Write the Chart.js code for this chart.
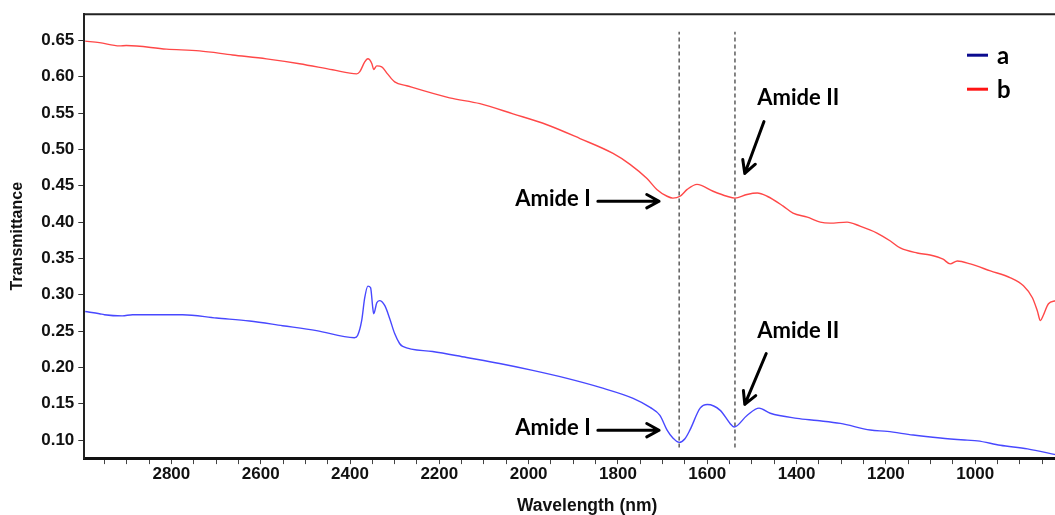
<!DOCTYPE html>
<html>
<head>
<meta charset="utf-8">
<script src="https://cdn.jsdelivr.net/npm/chart.js@4.4.1/dist/chart.umd.min.js"></script>
<style>
  html, body { margin: 0; padding: 0; background: #fff; overflow: hidden; }
  #wrap { width: 1055px; height: 515px; overflow: hidden; }
  #box { width: 1090px; height: 515px; }
</style>
</head>
<body>
<div id="wrap"><div id="box"><canvas id="ftir"></canvas></div></div>
<script>
// sample a
const wavelengthA = [2993, 2961, 2950, 2910, 2887, 2849, 2775, 2699, 2625, 2551, 2475, 2390, 2383, 2374, 2367, 2360,
  2354, 2349, 2347, 2340, 2334, 2322, 2311, 2300, 2289, 2282, 2215, 2139, 2065, 1991, 1914, 1840, 1766, 1728, 1706,
  1690, 1677, 1663, 1650, 1639, 1616, 1600, 1571, 1549, 1540, 1511, 1484, 1459, 1399, 1354, 1302, 1235, 1197, 1139,
  1078, 1018, 995, 944, 883, 820];
const transA = [0.277, 0.274, 0.2726, 0.271, 0.2726, 0.2726, 0.2726, 0.268, 0.264, 0.2575, 0.2507, 0.241, 0.244, 0.264,
  0.296, 0.312, 0.310, 0.282, 0.274, 0.289, 0.292, 0.285, 0.267, 0.2466, 0.233, 0.229, 0.222, 0.2137, 0.2055, 0.196,
  0.185, 0.1726, 0.1575, 0.145, 0.134, 0.1137, 0.103, 0.097, 0.102, 0.1137, 0.144, 0.149, 0.141, 0.123, 0.118, 0.134,
  0.144, 0.137, 0.130, 0.127, 0.123, 0.114, 0.112, 0.107, 0.103, 0.100, 0.099, 0.093, 0.088, 0.080];

// sample b
const wavelengthB = [2993, 2961, 2916, 2901, 2811, 2737, 2663, 2587, 2513, 2439, 2385, 2378, 2367, 2360, 2351, 2347,
  2340, 2329, 2316, 2300, 2273, 2177, 2109, 2035, 1959, 1885, 1811, 1773, 1735, 1713, 1690, 1677, 1661, 1645, 1623,
  1587, 1556, 1538, 1511, 1488, 1466, 1430, 1408, 1376, 1347, 1325, 1287, 1258, 1220, 1190, 1168, 1130, 1101, 1072,
  1056, 1040, 1011, 966, 921, 892, 872, 861, 854, 848, 836, 820];
const transB = [0.649, 0.647, 0.6425, 0.643, 0.638, 0.6356, 0.630, 0.6247, 0.618, 0.6096, 0.604, 0.607, 0.6205, 0.6247,
  0.618, 0.610, 0.615, 0.6137, 0.604, 0.593, 0.5877, 0.571, 0.563, 0.549, 0.534, 0.515, 0.4945, 0.4795, 0.460, 0.445,
  0.4356, 0.433, 0.4356, 0.445, 0.452, 0.4425, 0.4356, 0.433, 0.438, 0.440, 0.4356, 0.422, 0.4123, 0.4068, 0.400,
  0.3986, 0.400, 0.3945, 0.385, 0.374, 0.3644, 0.3575, 0.3548, 0.349, 0.3425, 0.3466, 0.3425, 0.3329, 0.3233, 0.3123,
  0.2959, 0.278, 0.2644, 0.2712, 0.2877, 0.2918];

const seriesLabels = ['a', 'b'];
const lineColors = ['rgb(72, 72, 255)', 'rgb(255, 72, 72)'];
const legendColors = ['#0b0b8f', '#ff1414'];

// x tick marks every 50 nm, numbered every 200 nm
const xTickStep = 50;
const xTickFirst = 750;
const xTickLast = 2950;
const xLabelStep = 200;
const xLabelRange = [1000, 2800];

// amide band positions (dashed guides)
const bandWavelengths = [1663, 1538];
const bandSpan = [0.090, 0.662];

// labels with arrows, anchored in data units
const notes = [
  { text: 'Amide I', at: [1861, 0.4315], align: 'right', from: [1845, 0.4288], to: [1708, 0.4288] },
  { text: 'Amide II', at: [1488, 0.5712], align: 'left', from: [1473, 0.5384], to: [1516, 0.467] },
  { text: 'Amide I', at: [1861, 0.1164], align: 'right', from: [1845, 0.1137], to: [1708, 0.1137] },
  { text: 'Amide II', at: [1488, 0.2507], align: 'left', from: [1468, 0.2192], to: [1516, 0.1493] }
];

const toPoints = (xs, ys) => xs.map((x, i) => ({ x: x, y: ys[i] }));

const bold = (size, family) => ({ family: family || "'Liberation Sans', Arial, sans-serif", size: size, weight: 'bold' });

function arrow(ctx, x1, y1, x2, y2) {
  const a = Math.atan2(y2 - y1, x2 - x1);
  const head = 14;
  ctx.beginPath();
  ctx.moveTo(x1, y1);
  ctx.lineTo(x2, y2);
  ctx.moveTo(x2 - head * Math.cos(a - 0.5), y2 - head * Math.sin(a - 0.5));
  ctx.lineTo(x2, y2);
  ctx.lineTo(x2 - head * Math.cos(a + 0.5), y2 - head * Math.sin(a + 0.5));
  ctx.stroke();
}

const extras = {
  id: 'extras',
  afterDatasetsDraw(chart) {
    const { ctx, chartArea, scales } = chart;
    const sx = scales.x, sy = scales.y;
    ctx.save();

    // top edge of the frame
    ctx.strokeStyle = '#222';
    ctx.lineWidth = 2;
    ctx.beginPath();
    ctx.moveTo(chartArea.left, chartArea.top);
    ctx.lineTo(chartArea.right, chartArea.top);
    ctx.stroke();

    // notes
    ctx.fillStyle = '#000';
    ctx.strokeStyle = '#000';
    ctx.lineWidth = 3;
    ctx.lineCap = 'round';
    ctx.lineJoin = 'round';
    ctx.font = "bold 22px Lato, 'Open Sans', sans-serif";
    ctx.textBaseline = 'middle';
    notes.forEach(n => {
      ctx.textAlign = n.align;
      ctx.fillText(n.text, sx.getPixelForValue(n.at[0]), sy.getPixelForValue(n.at[1]));
      arrow(ctx,
        sx.getPixelForValue(n.from[0]), sy.getPixelForValue(n.from[1]),
        sx.getPixelForValue(n.to[0]), sy.getPixelForValue(n.to[1]));
    });

    // legend, top right
    ctx.font = "bold 24px Lato, 'Open Sans', sans-serif";
    ctx.textAlign = 'left';
    ctx.lineCap = 'butt';
    seriesLabels.forEach((label, i) => {
      const ly = chartArea.top + 41 + i * 34;
      ctx.strokeStyle = legendColors[i];
      ctx.lineWidth = 3;
      ctx.beginPath();
      ctx.moveTo(chartArea.right - 123, ly);
      ctx.lineTo(chartArea.right - 102, ly);
      ctx.stroke();
      ctx.fillStyle = '#000';
      ctx.fillText(label, chartArea.right - 93, ly + 1);
    });
    ctx.restore();
  }
};

const datasets = [
  {
    label: seriesLabels[0],
    data: toPoints(wavelengthA, transA),
    borderColor: lineColors[0],
    borderWidth: 1.4,
    pointRadius: 0,
    cubicInterpolationMode: 'monotone'
  },
  {
    label: seriesLabels[1],
    data: toPoints(wavelengthB, transB),
    borderColor: lineColors[1],
    borderWidth: 1.4,
    pointRadius: 0,
    cubicInterpolationMode: 'monotone'
  }
];

bandWavelengths.forEach(w => {
  datasets.push({
    label: 'band ' + w,
    data: [{ x: w, y: bandSpan[0] }, { x: w, y: bandSpan[1] }],
    borderColor: '#333',
    borderWidth: 1.2,
    borderDash: [4, 3],
    pointRadius: 0
  });
});

new Chart(document.getElementById('ftir'), {
  type: 'line',
  data: { datasets: datasets },
  plugins: [extras],
  options: {
    responsive: true,
    maintainAspectRatio: false,
    animation: false,
    devicePixelRatio: 1,
    layout: { padding: { top: 13, left: 8, right: 0, bottom: 0 } },
    plugins: {
      legend: { display: false },
      tooltip: { enabled: false }
    },
    scales: {
      x: {
        type: 'linear',
        reverse: true,
        min: 743,
        max: 2995,
        border: { color: '#111', width: 3 },
        grid: { drawOnChartArea: false, tickLength: 6, color: '#444' },
        afterBuildTicks: scale => {
          const ticks = [];
          for (let v = xTickFirst; v <= xTickLast; v += xTickStep) ticks.push({ value: v });
          scale.ticks = ticks;
        },
        ticks: {
          autoSkip: false,
          maxRotation: 0,
          padding: 0,
          color: '#111',
          font: bold(17),
          callback: v => (v % xLabelStep === 0 && v >= xLabelRange[0] && v <= xLabelRange[1]) ? String(v) : ''
        },
        title: {
          display: true,
          text: 'Wavelength (nm)',
          color: '#111',
          font: bold(17.5),
          padding: { top: 11, bottom: -1.5 }
        }
      },
      y: {
        min: 0.0753,
        max: 0.6861,
        border: { color: '#222', width: 2 },
        grid: { drawOnChartArea: false, tickLength: 6, color: '#333' },
        ticks: {
          stepSize: 0.05,
          includeBounds: false,
          padding: 4,
          color: '#111',
          font: bold(17),
          callback: v => v.toFixed(2)
        },
        title: {
          display: true,
          text: 'Transmittance',
          color: '#111',
          font: bold(16),
          padding: { top: 0, bottom: 10 }
        }
      }
    }
  }
});
</script>
</body>
</html>
